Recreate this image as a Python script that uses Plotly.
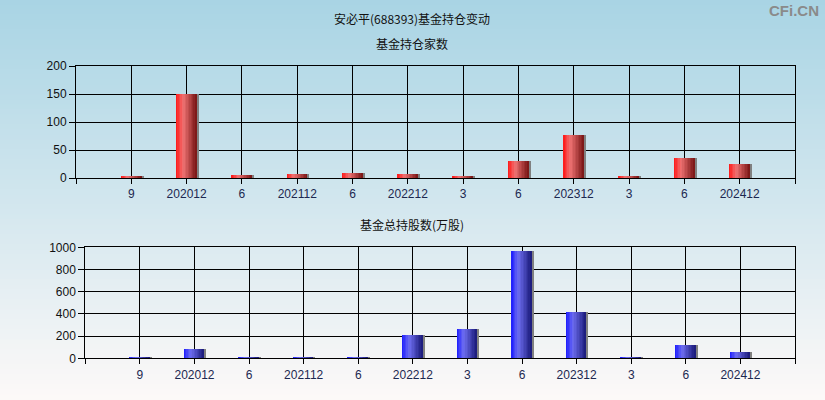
import plotly.graph_objects as go

# ---- data ----
categories = ["9", "202012", "6", "202112", "6", "202212", "3", "6", "202312", "3", "6", "202412"]
fund_count = [3, 150, 5, 7, 9, 7, 3, 30, 77, 3, 36, 25]
fund_shares = [5, 85, 5, 5, 5, 203, 258, 968, 410, 8, 121, 57]
count_ticks = [0, 50, 100, 150, 200]
share_ticks = [0, 200, 400, 600, 800, 1000]

W, H = 825, 400
positions = list(range(1, len(categories) + 1))

fig = go.Figure()

def lerp(c1, c2, t):
    return tuple(int(round(a + (b - a) * t)) for a, b in zip(c1, c2))

def bar_color(stops, t):
    for (t0, c0), (t1, c1) in zip(stops, stops[1:]):
        if t <= t1:
            return lerp(c0, c1, (t - t0) / (t1 - t0) if t1 > t0 else 0)
    return stops[-1][1]

red_stops = [(0.0, (255, 20, 20)), (0.35, (240, 115, 115)), (1.0, (120, 20, 20))]
blue_stops = [(0.0, (25, 25, 255)), (0.35, (110, 110, 240)), (1.0, (25, 25, 120))]

def add_bars(values, stops, xa, ya, slot_px):
    bw = 0.37
    n = 14
    for i in range(n):
        t = (i + 0.5) / n
        r, g, b = bar_color(stops, t)
        fig.add_trace(go.Bar(
            x=positions, y=values, width=bw / n * 1.05, offset=-bw / 2 + i * bw / n,
            marker=dict(color=f"rgb({r},{g},{b})", line=dict(width=0)),
            xaxis=xa, yaxis=ya, showlegend=False, hoverinfo="skip"))
    sw = 2.0 / slot_px
    fig.add_trace(go.Bar(
        x=positions, y=values, width=sw, offset=bw / 2,
        marker=dict(color="rgb(128,128,128)", line=dict(width=0)),
        xaxis=xa, yaxis=ya, showlegend=False, hoverinfo="skip"))

add_bars(fund_count, red_stops, "x", "y", 55.3)
add_bars(fund_shares, blue_stops, "x2", "y2", 54.6)

# background gradient
top_c = (168, 212, 228)
mid_c = (214, 232, 239)
bot_c = (253, 249, 248)
shapes = []
nb = 80
for k in range(nb):
    t = (k + 0.5) / nb
    if t < 0.55:
        c = lerp(top_c, mid_c, t / 0.55)
    else:
        c = lerp(mid_c, bot_c, (t - 0.55) / 0.45)
    shapes.append(dict(type="rect", xref="paper", yref="paper", x0=0, x1=1,
                       y0=1 - (k + 1) / nb, y1=min(1.0, 1 - k / nb + 0.002),
                       fillcolor=f"rgb({c[0]},{c[1]},{c[2]})", line=dict(width=0),
                       layer="below"))

tickfont_x = dict(family="Liberation Sans, Arial, sans-serif", size=12, color="#1c2850")
tickfont_y = dict(family="Liberation Sans, Arial, sans-serif", size=12, color="#111111")

def xaxis_cfg(domain, anchor):
    return dict(domain=domain, anchor=anchor, range=[0, len(categories) + 1],
                tickvals=[0] + positions + [len(categories) + 1],
                ticktext=[""] + categories + [""],
                showgrid=True, gridcolor="black", gridwidth=1,
                showline=True, linecolor="black", linewidth=1, mirror=True,
                ticks="outside", ticklen=5, tickcolor="black", automargin=False,
                tickfont=tickfont_x, zeroline=False, fixedrange=True)

def yaxis_cfg(domain, anchor, rng, tv):
    return dict(domain=domain, anchor=anchor, range=rng, tickvals=tv,
                showgrid=True, gridcolor="black", gridwidth=1,
                showline=True, linecolor="black", linewidth=1, mirror=True,
                ticks="outside", ticklen=6, tickcolor="black", automargin=False,
                tickfont=tickfont_y, zeroline=False, fixedrange=True)

fig.update_layout(
    width=W, height=H, margin=dict(l=0, r=0, t=0, b=0, pad=0, autoexpand=False),
    paper_bgcolor="rgba(0,0,0,0)", plot_bgcolor="rgba(0,0,0,0)",
    barmode="overlay", bargap=0, showlegend=False,
    shapes=shapes,
    xaxis=xaxis_cfg([76 / W, 795 / W], "y"),
    yaxis=yaxis_cfg([1 - 178 / H, 1 - 66 / H], "x", [0, 200], count_ticks),
    xaxis2=xaxis_cfg([85.3 / W, 795 / W], "y2"),
    yaxis2=yaxis_cfg([1 - 358.3 / H, 1 - 247.3 / H], "x2", [0, 1000], share_ticks),
    annotations=[
        dict(text="安必平(688393)基金持仓变动", x=412 / W, y=1 - 18 / H, xref="paper", yref="paper",
             yanchor="middle", showarrow=False,
             font=dict(family="Noto Sans CJK SC", size=12, color="#111")),
        dict(text="基金持仓家数", x=412 / W, y=1 - 43 / H, xref="paper", yref="paper",
             yanchor="middle", showarrow=False,
             font=dict(family="Noto Sans CJK SC", size=12, color="#111")),
        dict(text="基金总持股数(万股)", x=412 / W, y=1 - 224 / H, xref="paper", yref="paper",
             yanchor="middle", showarrow=False,
             font=dict(family="Noto Sans CJK SC", size=12, color="#111")),
        dict(text="<b>CFi.CN</b>", x=821 / W, y=1 - 10 / H, xref="paper", yref="paper",
             xanchor="right", yanchor="middle", showarrow=False,
             font=dict(family="Liberation Sans, Arial, sans-serif", size=15, color="#8a8a8a")),
    ],
)

fig.write_html(
    "out.html",
    config={"displayModeBar": False},
    post_script="document.body.style.margin='0';document.body.style.overflow='hidden';",
)
